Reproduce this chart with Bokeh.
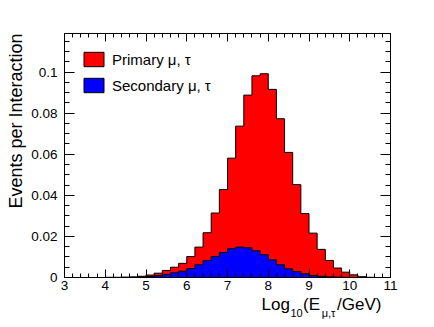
from bokeh.plotting import figure
from bokeh.models import (Range1d, LinearAxis, FixedTicker, CustomJSTickFormatter,
                          Legend, LegendItem, Title)
from bokeh.embed import file_html
from bokeh.resources import INLINE

# ---- data ----
bin_width = 0.2
bin_low = [round(3.0 + bin_width * i, 1) for i in range(40)]
primary = [0, 0, 0, 0, 0,
           0.0001, 0.0001, 0.0002, 0.0003, 0.0006,
           0.0012, 0.0021, 0.0034, 0.0050, 0.0069,
           0.0102, 0.0148, 0.0218, 0.0314, 0.0428,
           0.0581, 0.0737, 0.0888, 0.0982, 0.0992,
           0.0916, 0.0773, 0.0609, 0.0452, 0.0311,
           0.0216, 0.0137, 0.0083, 0.0046, 0.0026,
           0.0013, 0.0004, 0.0001, 0, 0]
secondary = [0, 0, 0, 0, 0,
             0, 0, 0, 0.0001, 0.0002,
             0.0005, 0.0009, 0.0015, 0.0023, 0.0031,
             0.0043, 0.0062, 0.0083, 0.0102, 0.0122,
             0.0140, 0.0148, 0.0145, 0.0130, 0.0111,
             0.0086, 0.0062, 0.0042, 0.0029, 0.0018,
             0.0010, 0.0006, 0.0003, 0.0002, 0.0001,
             0, 0, 0, 0, 0]
x_ticks = [3, 4, 5, 6, 7, 8, 9, 10, 11]
y_ticks = [0, 0.02, 0.04, 0.06, 0.08, 0.1]
x_min, x_max = 3, 11
y_min, y_max = 0, 0.1188
legend_labels = ["Primary μ, τ", "Secondary μ, τ"]
y_title = "Events per Interaction"
x_title_main = ["Log", "(E", "/GeV)"]
x_title_sub = ["10", "μ,τ"]

FONT = "Liberation Sans"
FRAME_L, FRAME_T, FRAME_W, FRAME_H = 64, 33, 326, 244
FIG_W, FIG_H = 426, 319

edges = bin_low + [round(bin_low[-1] + bin_width, 1)]

p = figure(frame_width=FRAME_W, frame_height=FRAME_H,
           x_range=Range1d(x_min, x_max), y_range=Range1d(y_min, y_max),
           output_backend="svg", toolbar_location=None,
           min_border_left=FRAME_L, min_border_right=FIG_W - FRAME_L - FRAME_W,
           min_border_top=FRAME_T, min_border_bottom=FIG_H - FRAME_T - FRAME_H,
           background_fill_color="white", border_fill_color="white")
p.grid.visible = False
p.outline_line_color = "black"
p.outline_line_width = 1

x_minor = [round(x_min + 0.2 * i, 1) for i in range(41)]
y_minor = [round(0.005 * i, 3) for i in range(24)]


def style_axis(ax, ticks, minor, major_len, minor_len, labels):
    ax.ticker = FixedTicker(ticks=ticks, minor_ticks=minor)
    ax.major_tick_in = major_len
    ax.major_tick_out = 0
    ax.minor_tick_in = minor_len
    ax.minor_tick_out = 0
    ax.axis_line_color = "black"
    ax.major_tick_line_color = "black"
    ax.minor_tick_line_color = "black"
    ax.axis_label = None
    if labels:
        ax.major_label_text_font = FONT
        ax.major_label_text_font_size = "13.5px"
        ax.major_label_text_color = "black"
        ax.formatter = CustomJSTickFormatter(code="return String(Math.round(tick*1000)/1000)")
    else:
        ax.major_label_text_font_size = "0px"
        ax.major_label_standoff = 0
        ax.formatter = CustomJSTickFormatter(code="return ''")


style_axis(p.xaxis[0], x_ticks, x_minor, 8, 4, True)
p.xaxis[0].major_label_standoff = 3
style_axis(p.yaxis[0], y_ticks, y_minor, 10, 5, True)
p.yaxis[0].major_label_standoff = 7

top_axis = LinearAxis()
style_axis(top_axis, x_ticks, x_minor, 8, 4, False)
p.add_layout(top_axis, "above")
right_axis = LinearAxis()
style_axis(right_axis, y_ticks, y_minor, 10, 5, False)
p.add_layout(right_axis, "right")


# x-axis title built from text-only axes (so subscripts can be smaller)
def x_at(px):
    return x_min + (px - FRAME_L) * (x_max - x_min) / FRAME_W


def text_axis(texts, centers_px, size, standoff):
    ax = LinearAxis(ticker=FixedTicker(ticks=[x_at(c) for c in centers_px], minor_ticks=[]),
                    formatter=CustomJSTickFormatter(args=dict(labels=texts),
                                                    code="return labels[index]"))
    ax.axis_line_color = None
    ax.major_tick_line_color = None
    ax.minor_tick_line_color = None
    ax.major_tick_in = 0
    ax.major_tick_out = 0
    ax.major_label_standoff = standoff
    ax.major_label_text_font = FONT
    ax.major_label_text_font_size = size
    ax.major_label_text_color = "black"
    p.add_layout(ax, "below")


text_axis(x_title_main, [275.2, 311.0, 358.7], "17px", 2)
text_axis(x_title_sub, [296.1, 328.0], "11px", -10)

# y-axis title (top aligned, as in ROOT)
p.add_layout(Title(text=y_title, align="right", text_font=FONT, text_font_size="18px",
                   text_font_style="normal", text_color="black", standoff=5), "left")

# histograms
prim_y = primary + [primary[-1]]
sec_y = secondary + [secondary[-1]]
zeros = [y_min] * len(edges)
p.varea_step(x=edges, y1=zeros, y2=prim_y, step_mode="after", fill_color="#ff0000")
p.step(x=edges, y=prim_y, mode="after", line_color="black", line_width=1)
p.varea_step(x=edges, y1=zeros, y2=sec_y, step_mode="after", fill_color="#0000ff")
p.step(x=edges, y=sec_y, mode="after", line_color="black", line_width=1)

# legend proxies (zero-size boxes at the origin, only their legend swatch is visible)
r_prim = p.quad(left=[x_min], right=[x_min], top=[y_min], bottom=[y_min],
                fill_color="#ff0000", line_color="black", line_width=1)
r_sec = p.quad(left=[x_min], right=[x_min], top=[y_min], bottom=[y_min],
               fill_color="#0000ff", line_color="black", line_width=1)
legend = Legend(items=[LegendItem(label=legend_labels[0], renderers=[r_prim]),
                       LegendItem(label=legend_labels[1], renderers=[r_sec])],
                location="top_left", margin=17, padding=0, spacing=8,
                glyph_width=25, glyph_height=18, label_standoff=6,
                label_text_font=FONT, label_text_font_size="15px",
                label_text_color="black",
                background_fill_alpha=0, border_line_alpha=0)
p.add_layout(legend)

open("out.html", "w").write(file_html(p, INLINE))
